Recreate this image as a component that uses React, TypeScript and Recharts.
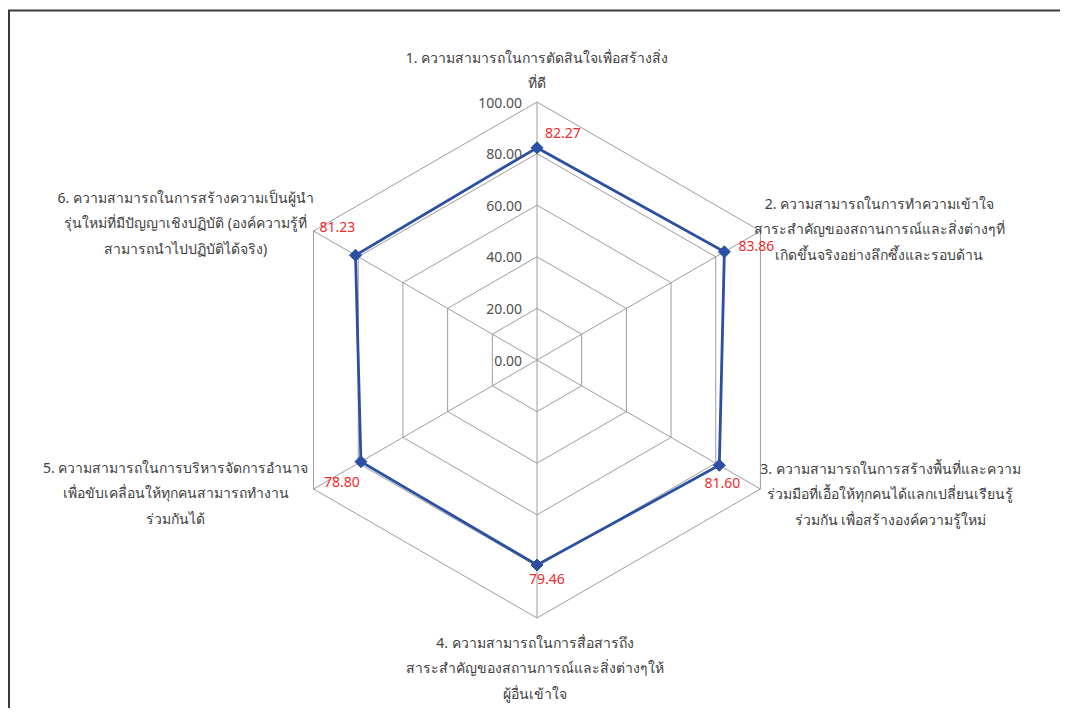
import React from 'react';
import { RadarChart, Radar, PolarGrid, PolarAngleAxis, PolarRadiusAxis } from 'recharts';

// category labels, already broken into lines as in the source
const categoryLines: string[][] = [
  ['1. ความสามารถในการตัดสินใจเพื่อสร้างสิ่ง', 'ที่ดี'],
  ['2. ความสามารถในการทำความเข้าใจ', 'สาระสำคัญของสถานการณ์และสิ่งต่างๆที่', 'เกิดขึ้นจริงอย่างลึกซึ้งและรอบด้าน'],
  ['3. ความสามารถในการสร้างพื้นที่และความ', 'ร่วมมือที่เอื้อให้ทุกคนได้แลกเปลี่ยนเรียนรู้', 'ร่วมกัน เพื่อสร้างองค์ความรู้ใหม่'],
  ['4. ความสามารถในการสื่อสารถึง', 'สาระสำคัญของสถานการณ์และสิ่งต่างๆให้', 'ผู้อื่นเข้าใจ'],
  ['5. ความสามารถในการบริหารจัดการอำนาจ', 'เพื่อขับเคลื่อนให้ทุกคนสามารถทำงาน', 'ร่วมกันได้'],
  ['6. ความสามารถในการสร้างความเป็นผู้นำ', 'รุ่นใหม่ที่มีปัญญาเชิงปฏิบัติ (องค์ความรู้ที่', 'สามารถนำไปปฏิบัติได้จริง)'],
];
const scores = [82.27, 83.86, 81.6, 79.46, 78.8, 81.23];
const radiusTicks = [0, 20, 40, 60, 80, 100];

const data = categoryLines.map((lines, i) => ({ name: lines.join(' '), score: scores[i] }));

const FONT = "Tahoma, 'Noto Sans', 'DejaVu Sans', sans-serif";

// where each category label sits relative to its angle-axis tick point
const labelOffsets = [
  { dx: 0, dy: -37 },
  { dx: 112, dy: -24 },
  { dx: 123, dy: -25 },
  { dx: -2, dy: 16 },
  { dx: -131, dy: -26 },
  { dx: -121, dy: -30 },
];
// value label offsets from each point (centre of text)
const valueOffsets = [
  { dx: 26, dy: -15 },
  { dx: 32, dy: -6 },
  { dx: 3, dy: 17 },
  { dx: 10, dy: 13 },
  { dx: -19, dy: 20 },
  { dx: -18, dy: -29 },
];

const AngleTick = (props: any) => {
  const { x, y, payload } = props;
  const i = payload.index;
  const off = labelOffsets[i];
  const lines = categoryLines[i];
  return (
    <g>
      {lines.map((ln, k) => (
        <text
          key={k}
          x={x + off.dx}
          y={y + off.dy + k * 25.5}
          textAnchor="middle"
          dominantBaseline="central"
          fontSize={14}
          fontFamily={FONT}
          fill="#404040"
        >
          {ln}
        </text>
      ))}
    </g>
  );
};

const RadiusTick = (props: any) => {
  const { x, y, payload } = props;
  return (
    <text x={x - 15} y={y} textAnchor="end" dominantBaseline="central" fontSize={14} fontFamily={FONT} fill="#505050">
      {Number(payload.value).toFixed(2)}
    </text>
  );
};

const Diamond = (props: any) => {
  const { cx, cy } = props;
  const s = 6;
  return <polygon points={`${cx},${cy - s} ${cx + s},${cy} ${cx},${cy + s} ${cx - s},${cy}`} fill="#2b4fa2" stroke="#2b4fa2" />;
};

const ValueLabel = (props: any) => {
  const { x, y, value, index } = props;
  const off = valueOffsets[index];
  return (
    <text x={x + off.dx} y={y + off.dy} textAnchor="middle" dominantBaseline="central" fontSize={14} fontFamily={FONT} fill="#f02b2b">
      {Number(value).toFixed(2)}
    </text>
  );
};

export default function App() {
  // body keeps its 8px margin; children are shifted back to the page origin
  return (
    <div style={{ position: 'relative', width: 1052, height: 700 }}>
      <div style={{ position: 'absolute', left: -8, top: -8, width: 1068, height: 720, background: '#fff' }}>
        <RadarChart width={1068} height={720} data={data} cx={537} cy={360} outerRadius={258} margin={{ top: 0, right: 0, bottom: 0, left: 0 }}>
          <PolarGrid gridType="polygon" stroke="#9c9c9c" />
          <PolarAngleAxis dataKey="name" tick={<AngleTick />} tickLine={false} axisLine={false} />
          <PolarRadiusAxis
            angle={90}
            domain={[0, 100]}
            ticks={radiusTicks as any}
            tickCount={6}
            axisLine={false}
            tickLine={false}
            tick={<RadiusTick />}
          />
          <Radar
            dataKey="score"
            stroke="#2b4fa2"
            strokeWidth={2.8}
            fill="none"
            fillOpacity={0}
            dot={<Diamond />}
            label={<ValueLabel />}
            isAnimationActive={false}
          />
        </RadarChart>
        {/* page frame: only top and left edges are visible in the source */}
        <svg width={1068} height={720} style={{ position: 'absolute', left: 0, top: 0, pointerEvents: 'none' }}>
          <line x1={8} y1={10.5} x2={1068} y2={10.5} stroke="#3a3a3a" strokeWidth={2} />
          <line x1={9} y1={10} x2={9} y2={720} stroke="#3a3a3a" strokeWidth={2} />
        </svg>
      </div>
    </div>
  );
}
